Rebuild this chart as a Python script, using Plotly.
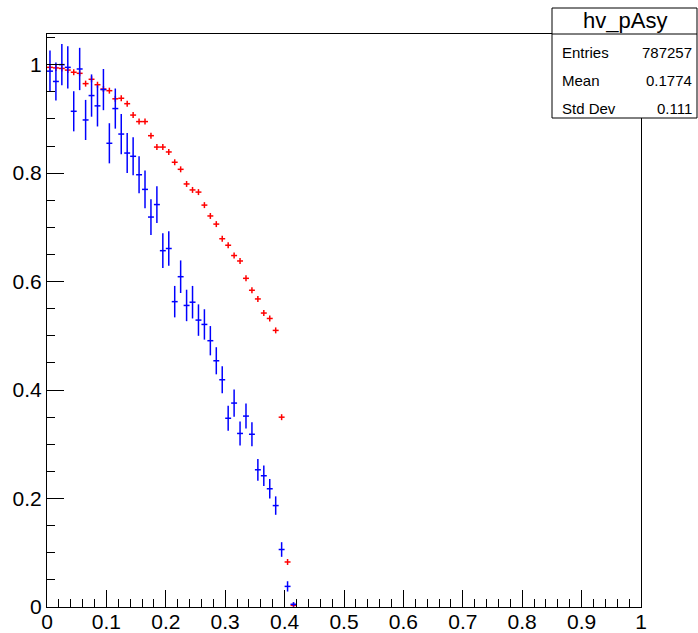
import plotly.graph_objects as go

# Bin centres (100 bins on [0, 1], only the filled ones are listed)
bin_centers = [0.005, 0.015, 0.025, 0.035, 0.045, 0.055, 0.065, 0.075, 0.085, 0.095,
               0.105, 0.115, 0.125, 0.135, 0.145, 0.155, 0.165, 0.175, 0.185, 0.195,
               0.205, 0.215, 0.225, 0.235, 0.245, 0.255, 0.265, 0.275, 0.285, 0.295,
               0.305, 0.315, 0.325, 0.335, 0.345, 0.355, 0.365, 0.375, 0.385, 0.395,
               0.405, 0.415]
bin_half_width = 0.005

# Red histogram contents
red_values = [0.995, 0.994, 0.993, 0.990, 0.986, 0.984, 0.965, 0.973, 0.963, 0.955,
              0.952, 0.937, 0.938, 0.928, 0.907, 0.895, 0.895, 0.869, 0.848, 0.848,
              0.839, 0.820, 0.807, 0.780, 0.769, 0.765, 0.741, 0.721, 0.706, 0.679,
              0.667, 0.648, 0.638, 0.606, 0.584, 0.568, 0.542, 0.532, 0.510, 0.350,
              0.083, 0.003]
red_error = 0.0055

# Blue histogram contents and their errors
blue_values = [0.988, 0.969, 1.000, 0.995, 0.914, 0.992, 0.898, 0.943, 0.924, 0.954,
               0.855, 0.919, 0.872, 0.837, 0.831, 0.797, 0.770, 0.719, 0.742, 0.657,
               0.661, 0.563, 0.609, 0.556, 0.562, 0.529, 0.521, 0.491, 0.454, 0.419,
               0.348, 0.376, 0.320, 0.352, 0.3185, 0.253, 0.242, 0.218, 0.187, 0.106,
               0.038, 0.005]
blue_errors = [0.038, 0.035, 0.038, 0.039, 0.037, 0.039, 0.037, 0.039, 0.038, 0.038,
               0.037, 0.037, 0.037, 0.037, 0.035, 0.034, 0.035, 0.033, 0.034, 0.032,
               0.032, 0.029, 0.030, 0.029, 0.030, 0.029, 0.028, 0.027, 0.025, 0.025,
               0.023, 0.025, 0.022, 0.023, 0.022, 0.020, 0.019, 0.018, 0.017, 0.0135,
               0.0095, 0.004]

# Statistics box contents
stats_title = "hv_pAsy"
stats_labels = ["Entries", "Mean", "Std Dev"]
stats_values = ["787257", "0.1774", "0.111"]

x_ticks = [0, 0.1, 0.2, 0.3, 0.4, 0.5, 0.6, 0.7, 0.8, 0.9, 1]
y_ticks = [0, 0.2, 0.4, 0.6, 0.8, 1]

W, H = 698, 633
ML, MR, MT, MB = 47, 57, 34, 26
FONT = "Liberation Sans, Arial, sans-serif"


def px_x(p):
    return (p - ML) / (W - ML - MR)


def px_y(p):
    return (H - MB - p) / (H - MT - MB)


fig = go.Figure()

fig.add_trace(go.Scatter(
    x=bin_centers, y=red_values, mode="markers",
    marker=dict(size=0.1, color="red", opacity=0),
    error_x=dict(type="constant", value=bin_half_width, width=0, thickness=1.5, color="#ff0000"),
    error_y=dict(type="constant", value=red_error, width=0, thickness=1.5, color="#ff0000"),
    showlegend=False, hoverinfo="skip",
))

fig.add_trace(go.Scatter(
    x=bin_centers, y=blue_values, mode="markers",
    marker=dict(size=0.1, color="blue", opacity=0),
    error_x=dict(type="constant", value=bin_half_width, width=0, thickness=1.5, color="#0000ff"),
    error_y=dict(type="data", array=blue_errors, width=0, thickness=1.5, color="#0000ff"),
    showlegend=False, hoverinfo="skip",
))

axis_common = dict(
    showgrid=False, zeroline=False, showline=True, mirror=True, automargin=False,
    linecolor="black", linewidth=1,
    ticks="inside", ticklen=17, tickwidth=1, tickcolor="black",
    tickfont=dict(family=FONT, size=21, color="black"),
)

fig.update_xaxes(range=[0, 1], tickvals=x_ticks, ticktext=[f"{v:g}" for v in x_ticks],
                 ticklabelstandoff=-4,
                 minor=dict(ticks="inside", ticklen=8, dtick=0.02, tick0=0,
                            tickcolor="black", tickwidth=1),
                 **axis_common)
fig.update_yaxes(range=[0, 1.0565], tickvals=y_ticks, ticktext=[f"{v:g}" for v in y_ticks],
                 minor=dict(ticks="inside", ticklen=8, dtick=0.05, tick0=0,
                            tickcolor="black", tickwidth=1),
                 **axis_common)

# Statistics box
box_l, box_r, box_t, box_sep, box_b = 552, 697, 8, 34, 118
shapes = [
    dict(type="rect", xref="paper", yref="paper",
         x0=px_x(box_l), x1=px_x(box_r), y0=px_y(box_b), y1=px_y(box_t),
         line=dict(color="black", width=1), fillcolor="white", layer="above"),
    dict(type="line", xref="paper", yref="paper",
         x0=px_x(box_l), x1=px_x(box_r), y0=px_y(box_sep), y1=px_y(box_sep),
         line=dict(color="black", width=1), layer="above"),
]

annotations = [
    dict(text=stats_title, xref="paper", yref="paper",
         x=px_x((box_l + box_r) / 2), y=px_y(21), xanchor="center", yanchor="middle",
         showarrow=False, font=dict(family=FONT, size=22, color="black")),
]
row_y = [52, 80, 108]
for lab, val, ry in zip(stats_labels, stats_values, row_y):
    annotations.append(dict(text=lab, xref="paper", yref="paper",
                            x=px_x(560), y=px_y(ry), xanchor="left", yanchor="middle",
                            showarrow=False, font=dict(family=FONT, size=15, color="black")))
    annotations.append(dict(text=val, xref="paper", yref="paper",
                            x=px_x(694), y=px_y(ry), xanchor="right", yanchor="middle",
                            showarrow=False, font=dict(family=FONT, size=15, color="black")))

fig.update_layout(
    width=W, height=H,
    margin=dict(l=ML, r=MR, t=MT, b=MB, pad=0),
    paper_bgcolor="white", plot_bgcolor="white",
    shapes=shapes, annotations=annotations,
    showlegend=False,
)

fig.write_html("out.html", include_plotlyjs=True, config={"displayModeBar": False})
